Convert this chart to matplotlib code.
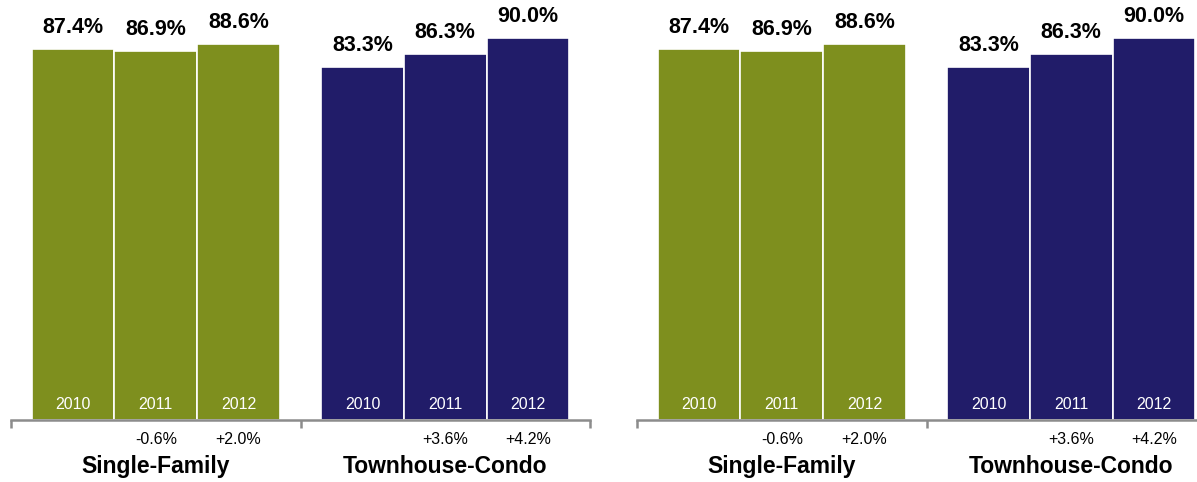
import matplotlib
matplotlib.use("Agg")
import matplotlib.pyplot as plt
import numpy as np

plt.rcParams['font.family'] = ['Liberation Sans', 'DejaVu Sans']

years = ['2010', '2011', '2012']
groups = ['Single-Family', 'Townhouse-Condo']
sf_pct = [87.4, 86.9, 88.6]
tc_pct = [83.3, 86.3, 90.0]
sf_change = ['', '-0.6%', '+2.0%']
tc_change = ['', '+3.6%', '+4.2%']
group_colors = ['#7e8f1e', '#211c69']

W, H = 1197, 482
fig = plt.figure(figsize=(W / 100, H / 100), dpi=100)


def draw_panel(ax):
    series = [sf_pct, tc_pct]
    changes = [sf_change, tc_change]
    for g, (vals, chg) in enumerate(zip(series, changes)):
        xs = np.arange(len(vals)) + g * (len(vals) + 0.5)
        ax.bar(xs, vals, width=1.0, color=group_colors[g],
               edgecolor='white', linewidth=1.2)
        for x, v, yr, c in zip(xs, vals, years, chg):
            # value above the bar
            ax.annotate(f'{v:.1f}%', (x, v), xytext=(0, 11.5),
                        textcoords='offset points', ha='center',
                        va='baseline', fontsize=15.5, fontweight='bold',
                        annotation_clip=False)
            # year inside the bar
            ax.annotate(yr, (x, 0), xytext=(0, 11.5),
                        textcoords='offset points', ha='center',
                        va='center', fontsize=11.5, color='white',
                        annotation_clip=False)
            if c:
                ax.annotate(c, (x, 0), xytext=(0, -14),
                            textcoords='offset points', ha='center',
                            va='center', fontsize=11.5,
                            annotation_clip=False)
        ax.annotate(groups[g], (xs.mean(), 0), xytext=(0, -33.5),
                    textcoords='offset points', ha='center', va='center',
                    fontsize=16.5, fontweight='bold',
                    annotation_clip=False)

    ax.set_xlim(-0.75, 6.25)
    ax.set_ylim(0, 99.0)
    for s in ['top', 'right', 'left']:
        ax.spines[s].set_visible(False)
    ax.spines['bottom'].set_color('#8c8c8c')
    ax.spines['bottom'].set_linewidth(1.8)
    ax.set_yticks([])
    ax.set_xticks([-0.75, 2.75, 6.25])
    ax.set_xticklabels([])
    ax.tick_params(axis='x', direction='out', length=5.5, width=1.8,
                   color='#8c8c8c')


# same chart twice, side by side
for left_px in [11, 637]:
    ax = fig.add_axes([left_px / W, 62 / H, 579 / W, 420 / H])
    ax.patch.set_visible(False)
    draw_panel(ax)

fig.savefig('out.png', dpi=100)
